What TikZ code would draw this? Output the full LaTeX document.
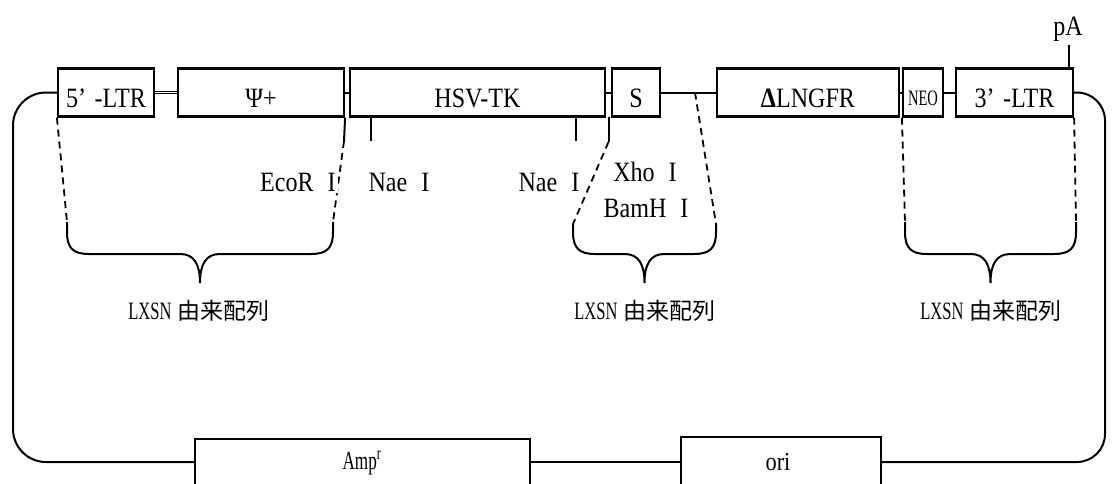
\documentclass[tikz,border=0pt]{standalone}
\usepackage{fontspec}
\setmainfont[FakeStretch=0.86]{Liberation Serif}
\newfontfamily\narrowfont[FakeStretch=0.66]{Liberation Serif}
\newfontfamily\cjkfont{Noto Sans CJK JP}
\newcommand\drawbrace[3]{%
  \pgfmathsetmacro\bxm{(#1+#2)/2}%
  \draw[brace line] (#1,#3) -- (#1,232) .. controls (#1,248) and (#1+6,254) .. (#1+22,254)
    -- (\bxm-20,254) .. controls (\bxm-6,254) and (\bxm,264) .. (\bxm,283)
    .. controls (\bxm,264) and (\bxm+6,254) .. (\bxm+20,254)
    -- (#2-22,254) .. controls (#2-6,254) and (#2,248) .. (#2,232) -- (#2,#3);}
\begin{document}
\begin{tikzpicture}[x=1pt,y=-1pt,
  gene/.style={draw, line width=2.2pt, inner sep=0pt, minimum height=48pt,
    text height=30pt, text depth=0pt, font=\fontsize{28}{30}\selectfont},
  lab/.style={font=\fontsize{28}{30}\selectfont, inner sep=0pt, anchor=base},
  lxsn/.style={font=\narrowfont\fontsize{25}{27}\selectfont, inner sep=0pt, anchor=base},
  wire/.style={line width=2pt},
  dash line/.style={line width=1.8pt, dash pattern=on 7pt off 5pt},
  brace line/.style={line width=2pt},
  open box/.style={draw, line width=2.2pt, inner sep=0pt}]
\clip (0,0) rectangle (1112,483);

% top genes
\node[gene, minimum width=96pt]  (ltr5)  at (106,92.5)   {5’\hspace{0.3em}-LTR};
\node[gene, minimum width=166pt] (psi)   at (261,92.5)   {Ψ+};
\node[gene, minimum width=255pt] (hsv)   at (477.5,92.5) {HSV-TK};
\node[gene, minimum width=48pt]  (s)     at (636,92.5)   {S};
\node[gene, minimum width=182pt] (lngfr) at (808,92.5)   {{\bfseries Δ}LNGFR};
\node[gene, minimum width=40pt, text height=26pt, font=\narrowfont\fontsize{22}{24}\selectfont] (neo) at (923,92.5) {NEO};
\node[gene, minimum width=117pt] (ltr3)  at (1014.5,92.5) {3’\hspace{0.3em}-LTR};

\draw[double, double distance=0.8pt, line width=1.3pt] (ltr5.east) -- (psi.west);
\draw[wire] (psi.east) -- (hsv.west);
\draw[wire] (hsv.east) -- (s.west);
\draw[wire] (s.east) -- (lngfr.west);
\draw[wire] (lngfr.east) -- (neo.west);
\draw[wire] (neo.east) -- (ltr3.west);

% bottom boxes
\node[open box, minimum width=335pt, minimum height=46pt] (amp) at (362.5,462) {};
\node[open box, minimum width=200pt, minimum height=50pt] (ori) at (781,462) {};
\node[lab, font=\narrowfont\fontsize{26}{28}\selectfont] (amptxt) at (362,469) {Amp\textsuperscript{r}};
\node[lab, font=\fontsize{26}{28}\selectfont] (oritxt) at (778,470) {ori};

% loop
\coordinate (cL) at (13,462);
\coordinate (cR) at (1105,462);
\draw[wire, rounded corners=33pt] (ltr5.west) -| (cL) -- (amp.west);
\draw[wire] (amp.east) -- (ori.west);
\draw[wire, rounded corners=28pt] (ori.east) -- (cR) |- (ltr3.east);

% ticks
\coordinate (ecoT) at (344,141);
\coordinate (nae1a) at (371,116.5);
\coordinate (nae1b) at (371,141);
\coordinate (nae2a) at (576,116.5);
\coordinate (nae2b) at (576,141);
\coordinate (xhoa) at (608.5,116.5);
\coordinate (xhob) at (608.5,142);
\coordinate (bam) at (695,92.5);
\coordinate (pa1) at (1069,45);
\coordinate (b1l) at (67,222);
\coordinate (b1r) at (333,222);
\coordinate (b2l) at (573,224);
\coordinate (b2r) at (716,224);
\coordinate (b3l) at (905,222);
\coordinate (b3r) at (1076,222);

\draw[wire] (psi.south east) -- (ecoT);
\draw[wire] (nae1a) -- (nae1b);
\draw[wire] (nae2a) -- (nae2b);
\draw[wire] (xhoa) -- (xhob);
\draw[wire] (pa1) -- (pa1 |- ltr3.north);

\draw[dash line] (ltr5.south west) -- (b1l);
\draw[dash line] (ecoT) -- (b1r);
\draw[dash line] (xhob) -- (b2l);
\draw[dash line] (bam) -- (b2r);
\draw[dash line] (neo.south west) -- (b3l);
\draw[dash line] (ltr3.south east) -- (b3r);

% braces
\drawbrace{67}{333}{222}
\drawbrace{573}{716}{224}
\drawbrace{905}{1076}{222}

% labels
\node[lab, fill=white, inner sep=2pt] (eco) at (298,191) {EcoR\hspace{0.5em}I};
\node[lab] (nae1) at (399,191) {Nae\hspace{0.5em}I};
\node[lab] (nae2) at (549,191) {Nae\hspace{0.5em}I};
\node[lab] (xho) at (645,181) {Xho\hspace{0.5em}I};
\node[lab] (bamh) at (646,217) {BamH\hspace{0.5em}I};
\node[lab] (pA) at (1068,35) {pA};

\node[lxsn] (lx1) at (199,319) {LXSN\hspace{0.25em}{\cjkfont\fontsize{23}{24}\selectfont 由来配列}};
\node[lxsn] (lx2) at (645,319) {LXSN\hspace{0.25em}{\cjkfont\fontsize{23}{24}\selectfont 由来配列}};
\node[lxsn] (lx3) at (991,319) {LXSN\hspace{0.25em}{\cjkfont\fontsize{23}{24}\selectfont 由来配列}};
\end{tikzpicture}
\end{document}
